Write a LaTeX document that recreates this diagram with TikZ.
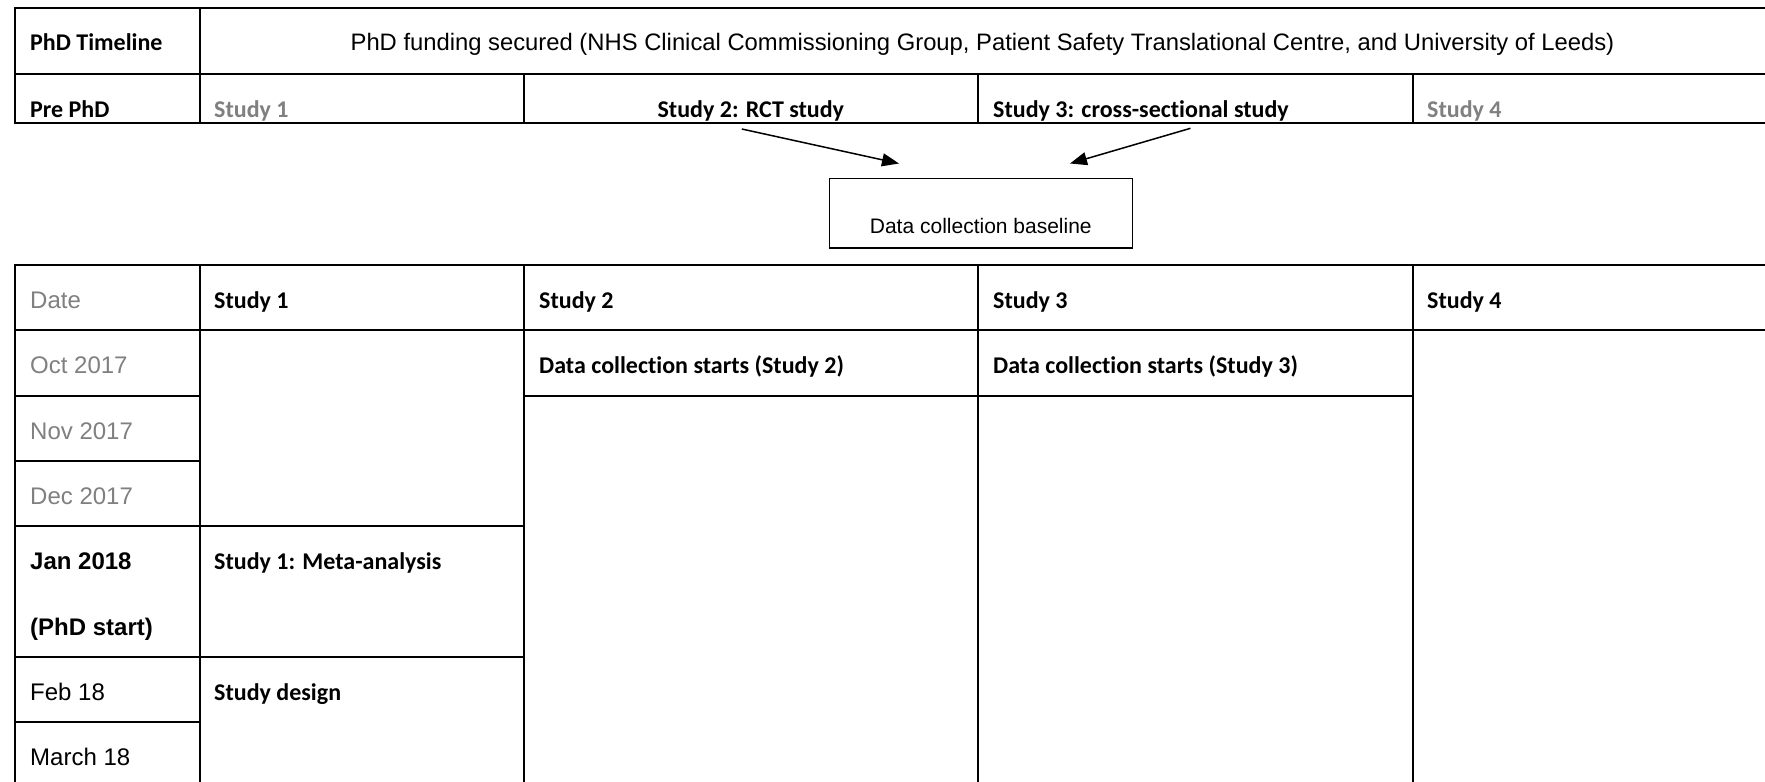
\documentclass[tikz,border=0pt]{standalone}
\usepackage{fontspec}
\setmainfont{Liberation Sans}
\newfontfamily\calfont[Ligatures=NoCommon]{Carlito}
\usetikzlibrary{arrows.meta}
\definecolor{txtgray}{RGB}{128,128,128}
\begin{document}
\begin{tikzpicture}[x=1pt,y=-1pt,
  tbl/.style={line width=2pt, line cap=rect},
  clab/.style={anchor=base west, inner sep=0pt, font=\calfont\bfseries\fontsize{24}{28}\selectfont},
  alab/.style={anchor=base west, inner sep=0pt, font=\fontsize{24}{28}\selectfont},
  arr/.style={line width=1.5pt, -{Triangle[length=17pt,width=13pt]}},
  grey/.style={text=txtgray}]
\useasboundingbox (0,0) rectangle (1765,782);
\fill[white] (0,0) rectangle (1765,782);
% ---- top table ----
\draw[tbl] (15,7.9) -- (1765,7.9);
\draw[tbl] (15,74.3) -- (1765,74.3);
\draw[tbl] (15,122.5) -- (1765,122.5);
\draw[tbl] (15,7.9) -- (15,122.5);
\draw[tbl] (200,7.9) -- (200,122.5);
\foreach \x in {523.5,978,1412.5} \draw[tbl] (\x,74.3) -- (\x,122.5);
\node[clab] (tl) at (30,50) {PhD Timeline};
\node[anchor=base, inner sep=0pt, font=\fontsize{23.8}{28}\selectfont] (fund) at (982.5,50) {PhD funding secured (NHS Clinical Commissioning Group, Patient Safety Translational Centre, and University of Leeds)};
\node[clab] (pre) at (30,117.5) {Pre PhD};
\node[clab,grey] (ts1) at (214,117.5) {Study 1};
\node[clab,anchor=base] (ts2) at (750.8,117.5) {Study 2: RCT study};
\node[clab] (ts3) at (993,117.5) {Study 3: cross-sectional study};
\node[clab,grey] (ts4) at (1427,117.5) {Study 4};
% ---- baseline box ----
\node[draw, line width=1.4pt, minimum width=303pt, minimum height=69.7pt, inner sep=0pt] (dcb) at (980.8,213.2) {};
\node[anchor=base, inner sep=0pt, font=\fontsize{21}{25}\selectfont] (dcbt) at (980.8,233) {Data collection baseline};
\coordinate (a1s) at (741.8,129);
\coordinate (a1e) at (899,163.5);
\coordinate (a2s) at (1190.5,128.3);
\coordinate (a2e) at (1070,163.5);
\draw[arr] (a1s) -- (a1e);
\draw[arr] (a2s) -- (a2e);
% ---- bottom table ----
\draw[tbl] (15,265) -- (1765,265);
\draw[tbl] (15,330.3) -- (1765,330.3);
\draw[tbl] (15,395.6) -- (200,395.6);
\draw[tbl] (523.5,395.6) -- (1412.5,395.6);
\draw[tbl] (15,460.9) -- (200,460.9);
\draw[tbl] (15,526.2) -- (523.5,526.2);
\draw[tbl] (15,656.8) -- (523.5,656.8);
\draw[tbl] (15,722.1) -- (200,722.1);
\foreach \x in {15,200,523.5,978,1412.5} \draw[tbl] (\x,265) -- (\x,790);
\node[alab,grey] (date) at (30,308.5) {Date};
\node[clab] (h1) at (214,308.5) {Study 1};
\node[clab] (h2) at (539,308.5) {Study 2};
\node[clab] (h3) at (993,308.5) {Study 3};
\node[clab] (h4) at (1427,308.5) {Study 4};
\node[alab,grey] (oct) at (30,373.8) {Oct 2017};
\node[alab,grey] (nov) at (30,439.1) {Nov 2017};
\node[alab,grey] (dec) at (30,504.4) {Dec 2017};
\node[alab,font=\fontsize{24}{28}\selectfont\bfseries] (jan) at (30,569.7) {Jan 2018};
\node[alab,font=\fontsize{24}{28}\selectfont\bfseries] (phd) at (30,635) {(PhD start)};
\node[alab] (feb) at (30,700.3) {Feb 18};
\node[alab] (mar) at (30,765.6) {March 18};
\node[clab] (meta) at (214,569.7) {Study 1: Meta-analysis};
\node[clab] (design) at (214,700.3) {Study design};
\node[clab] (dc2) at (539,373.8) {Data collection starts (Study 2)};
\node[clab] (dc3) at (993,373.8) {Data collection starts (Study 3)};
\end{tikzpicture}
\end{document}
